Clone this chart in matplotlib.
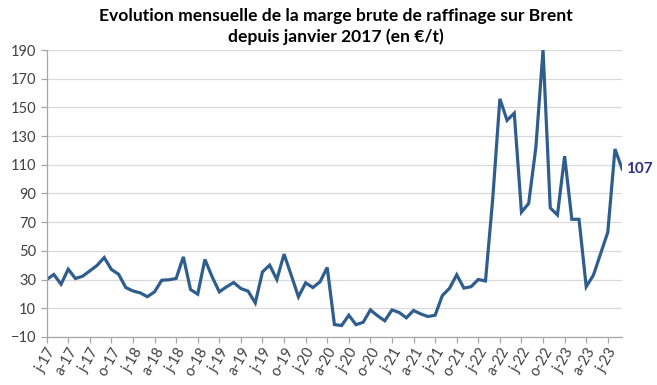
import matplotlib
matplotlib.use("Agg")
import matplotlib.pyplot as plt
import numpy as np
import pandas as pd

# Marge brute de raffinage sur Brent (EUR/t), mensuel depuis janvier 2017
START = "2017-01"
MARGIN = [
    30, 33.5, 26.7, 37.2, 30.7, 32.3, 36, 39.8, 45.3, 37, 33.7, 24.4,      # 2017
    22, 20.7, 18, 21.4, 29.5, 29.8, 30.7, 45.8, 23, 19.8, 44, 31.9,        # 2018
    21.4, 24.9, 27.9, 23.7, 21.9, 13.7, 35.3, 40, 30, 47.7, 33, 17.9,      # 2019
    27.7, 24.4, 28.4, 38.4, -1.4, -2.1, 5.1, -1.5, 0.2, 8.8, 4.7, 1.2,     # 2020
    8.8, 7, 3.3, 8.4, 6, 4.2, 5.1, 18.8, 23.9, 33.3, 24, 25,               # 2021
    30, 29, 86, 156, 141, 146, 77, 83, 122, 190, 80, 75,                   # 2022
    116, 72, 72, 25, 33, 48, 63, 121, 107,                                 # 2023
]
MONTH_LETTERS = ["j", "f", "m", "a", "m", "j", "j", "a", "s", "o", "n", "d"]
Y_TICKS = list(range(-10, 191, 20))

TITLE = "Evolution mensuelle de la marge brute de raffinage sur Brent\ndepuis janvier 2017 (en €/t)"
LINE_COLOR = "#2F5E8E"
LABEL_COLOR = "#2B2F8C"
TEXT_COLOR = "#404040"

plt.rcParams["font.family"] = ["Lato", "DejaVu Sans"]

dates = pd.date_range(START, periods=len(MARGIN), freq="MS")
x = np.arange(len(MARGIN))
labels = [f"{MONTH_LETTERS[d.month - 1]}-{d.strftime('%y')}" for d in dates]

fig = plt.figure(figsize=(6.57, 3.85), dpi=100)
ax = fig.add_axes([0.071, 0.125, 0.876, 0.745])

ax.plot(x, MARGIN, color=LINE_COLOR, linewidth=2.3, solid_joinstyle="miter")

# dernière valeur
ax.annotate(f"{MARGIN[-1]:.0f}", xy=(x[-1], MARGIN[-1]), xytext=(3, 0),
            textcoords="offset points", ha="left", va="center",
            fontsize=11, fontweight="bold", color=LABEL_COLOR,
            annotation_clip=False)

ax.set_xlim(0, len(MARGIN) - 1)
ax.set_ylim(Y_TICKS[0], Y_TICKS[-1])
ax.set_yticks(Y_TICKS)
ax.grid(axis="y", color="#D9D9D9", linewidth=0.9)
ax.set_axisbelow(True)

tick_pos = x[::3]
ax.set_xticks(tick_pos)
ax.set_xticklabels([labels[i] for i in tick_pos], rotation=60,
                   ha="right", rotation_mode="anchor")

for side in ("top", "right"):
    ax.spines[side].set_visible(False)
for side in ("left", "bottom"):
    ax.spines[side].set_color("#A6A6A6")
    ax.spines[side].set_linewidth(0.9)
ax.tick_params(axis="both", colors="#A6A6A6", labelcolor=TEXT_COLOR,
               labelsize=10.5, length=4, width=0.9)
ax.tick_params(axis="x", pad=2)

fig.text(0.511, 0.978, TITLE, ha="center", va="top", fontsize=12.6,
         fontweight="bold", color="black", linespacing=1.32)

fig.savefig("out.png", dpi=100, facecolor="white")
